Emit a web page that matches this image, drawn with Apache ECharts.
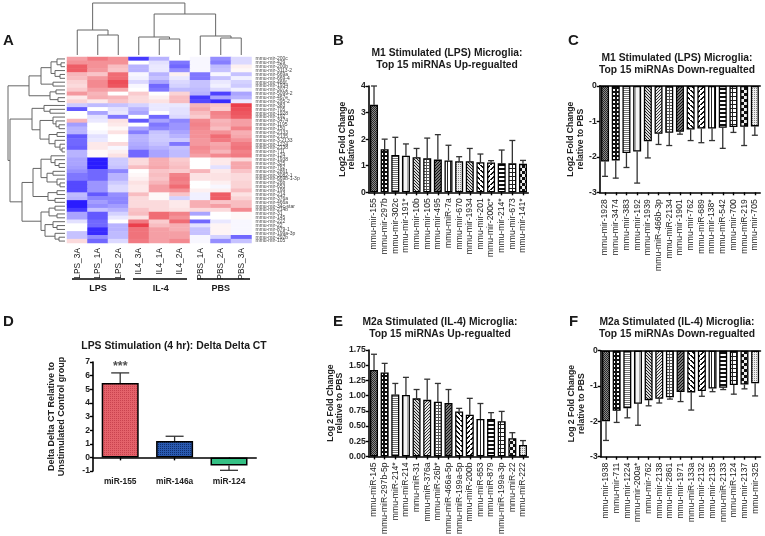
<!DOCTYPE html>
<html>
<head>
<meta charset="utf-8">
<style>html,body{margin:0;padding:0;background:#fff}#c{width:765px;height:536px;filter:blur(0.4px)}</style>
<script src="https://cdn.jsdelivr.net/npm/echarts@6/dist/echarts.min.js"></script>
</head>
<body>
<div id="c"></div>
<script>
// ---------- heat map data ----------
const heatColumns = ['LPS_3A','LPS_1A','LPS_2A','IL4_3A','IL4_1A','IL4_2A','PBS_1A','PBS_2A','PBS_3A'];
const heatRowNames = ['mmu-mir-200c','mmu-mir-429','mmu-mir-200b','mmu-mir-3113-2','mmu-mir-669a','mmu-mir-669-4','mmu-mir-466f','mmu-mir-1934',
 'mmu-mir-3072','mmu-mir-5099-2','mmu-mir-467e','mmu-mir-295-2','mmu-mir-383','mmu-mir-705','mmu-mir-1928','mmu-mir-192','mmu-mir-3474',
 'mmu-mir-1195','mmu-mir-150','mmu-mir-2133','mmu-mir-2135','mmu-mir-3-2133','mmu-mir-1224','mmu-mir-2138','mmu-mir-711','mmu-mir-124',
 'mmu-mir-1938','mmu-mir-325','mmu-mir-762','mmu-mir-2861','mmu-mir-3082-1','mmu-mir-669b-1-3p','mmu-mir-26b','mmu-mir-653','mmu-mir-199','mmu-mir-214',
 'mmu-mir-376a','mmu-mir-466a','mmu-mir-34c-star','mmu-mir-214b','mmu-mir-31','mmu-mir-145','mmu-mir-222','mmu-mir-22','mmu-mir-879-1','mmu-mir-199a-3p','mmu-mir-297b','mmu-mir-105'];
const heatValues = [
[1.3,1.8,1.5,-2.6,-1.0,0.0,-0.1,-1.5,-0.5],
[1.5,1.5,1.5,0.0,-0.4,-1.8,-0.1,-1.7,-0.5],
[2.2,1.5,0.9,-1.0,-0.3,-2.0,-0.1,-0.9,0.2],
[2.2,1.4,0.8,-1.0,-0.3,-1.5,-0.1,-0.8,0.1],
[1.0,0.8,2.0,-0.1,-1.0,0.2,-1.8,-0.1,-0.8],
[0.9,1.4,2.0,-0.2,-0.8,-0.3,-1.8,-0.8,-0.2],
[0.6,1.6,2.4,-0.5,-1.2,-0.5,-0.8,-0.3,-0.6],
[0.5,1.6,2.3,-0.1,-2.0,-0.6,-0.8,-0.2,-0.7],
[0.7,1.3,1.2,0.0,-1.8,-0.9,-0.9,-0.5,-0.2],
[1.4,1.0,0.0,0.7,0.0,0.6,-1.0,-2.5,-1.2],
[0.3,1.1,1.0,0.5,0.2,0.9,-2.6,-1.2,-1.0],
[0.6,0.3,0.8,0.5,0.4,0.9,-2.4,-2.8,-0.3],
[-0.7,-0.9,-0.8,-0.6,-0.3,-0.3,1.0,0.8,2.6],
[-2.2,0.0,-0.4,-1.0,-0.3,-0.4,1.2,0.7,2.4],
[0.0,-1.2,-0.3,-1.2,0.0,-0.4,0.9,1.7,2.3],
[0.0,-0.4,-1.8,0.0,-2.0,-0.5,0.7,1.6,2.2],
[1.0,-0.3,0.4,-2.2,-1.2,-1.6,1.6,1.0,1.3],
[-1.3,0.0,0.3,0.0,-1.8,-1.4,1.7,1.1,1.3],
[-1.0,0.0,0.1,-1.2,-1.6,-1.4,1.6,0.9,1.7],
[-1.0,-0.1,0.4,-1.7,-0.8,-1.2,1.5,1.5,1.1],
[-2.2,-0.4,0.0,-1.0,-0.7,-1.0,1.5,2.0,1.2],
[-2.0,-0.3,0.0,-1.0,-0.7,-0.7,1.4,1.8,1.5],
[-2.0,0.3,0.5,-1.1,-0.8,-1.8,1.4,1.2,1.8],
[-2.1,0.3,-0.1,-1.2,-1.0,-0.8,1.6,1.3,1.9],
[-1.0,0.1,0.2,-2.0,-1.2,-0.9,1.5,1.0,1.7],
[-1.0,0.1,0.4,-2.0,-1.2,-0.9,1.3,1.6,1.8],
[-1.2,-3.0,-0.7,0.5,1.1,0.7,0.0,0.3,0.5],
[-1.2,-3.0,-0.7,0.5,1.1,0.8,0.0,0.3,1.2],
[-1.3,-3.0,-0.8,0.9,1.2,0.9,0.0,-0.4,1.2],
[-1.5,-2.0,-1.6,0.0,0.8,0.7,1.0,0.3,0.8],
[-1.8,-2.0,-1.0,0.1,0.9,1.7,0.4,0.4,0.5],
[-1.8,-2.0,-1.0,0.2,0.8,1.8,0.4,0.4,0.5],
[-2.4,-1.4,-0.7,0.4,1.0,1.7,0.0,0.2,0.6],
[-2.4,-1.4,-0.5,0.3,1.3,2.0,0.0,-0.1,0.6],
[-2.4,-1.4,-0.5,0.3,1.3,1.5,0.2,0.2,0.9],
[-0.9,-2.2,-1.5,0.9,0.1,0.8,-0.2,2.2,0.4],
[-1.0,-1.6,-1.6,0.5,0.1,-0.6,-0.2,2.2,0.6],
[-3.0,-1.3,-1.6,0.5,0.5,0.3,1.1,0.8,0.9],
[-3.0,-1.5,-1.3,0.5,0.5,0.3,1.1,1.3,0.9],
[-2.6,-0.8,-1.0,0.8,0.5,0.4,0.5,0.5,1.6],
[-1.2,-2.2,-0.6,0.9,2.0,1.7,-1.2,0.0,0.1],
[-1.2,-2.2,-0.3,0.4,2.0,1.5,0.0,0.0,0.1],
[-0.4,-2.0,0.0,1.8,0.7,2.0,-2.0,-0.3,-0.1],
[0.0,-2.0,-1.0,2.6,0.9,1.1,-0.4,0.15,-0.1],
[0.0,-2.8,-1.0,1.9,1.3,1.1,-0.8,0.15,-0.1],
[-0.8,-2.8,-0.9,1.9,1.3,1.3,-0.8,0.15,-0.1],
[-0.8,-1.5,-0.9,1.9,1.3,1.3,-0.1,-0.6,-2.0],
[0.5,-2.0,-0.5,1.8,1.3,1.6,-0.1,-1.5,-0.8]];
// dendrograms: [height, child, child]; plain numbers are leaves
const colTree = [52,[25,0,[20,1,2]],[41,[18,3,[16,4,5]],[19,6,[17,7,8]]]];
const rowTree = [57,
 [36,[24,[14,[8,0,[4,1,2]],[10,3,[5,4,5]]],[12,6,7]],[15,[9,8,9],[7,10,11]]],
 [55,
  [33,[21,12,[15,13,14]],[25,[12,15,[9,16,[6,17,18]]],[16,[8,19,20],[10,21,[5,22,[3,23,24]]]]]],
  [43,
   [32,[24,[14,25,[10,26,[6,27,28]]],[18,[12,29,30],[8,31,[5,32,33]]]],[17,[8,34,35],[10,36,37]]],
   [24,[16,[10,38,39],[8,40,41]],[20,[12,42,[8,43,44]],[10,45,[6,46,47]]]]]]];

// ---------- panel B ----------
const bNames = ['mmu-mir-155','mmu-mir-297b','mmu-mir-302c','mmu-mir-191*','mmu-mir-10b','mmu-mir-105','mmu-mir-495','mmu-miR-7a','mmu-mir-670','mmu-mir-1934','mmu-mir-201','mmu-mir-200c*','mmu-mir-214*','mmu-mir-673','mmu-mir-141*'];
const bValues = [3.29,1.62,1.40,1.38,1.32,1.28,1.23,1.20,1.17,1.17,1.13,1.12,1.09,1.09,1.07];
const bTops = [4.0,2.0,2.07,1.82,1.65,2.04,2.17,1.77,1.34,1.65,1.44,1.19,1.59,1.95,1.2];
// ---------- panel C ----------
const cNames = ['mmu-mir-1928','mmu-mir-3474','mmu-mir-383','mmu-mir-192','mmu-mir-1939','mmu-miR-466b-3p','mmu-miR-2134','mmu-mir-1901','mmu-mir-762','mmu-miR-689','mmu-mir-138*','mmu-miR-542','mmu-mir-700','mmu-miR-219','mmu-mir-705'];
const cValues = [-2.13,-2.1,-1.89,-1.85,-1.56,-1.35,-1.32,-1.29,-1.23,-1.2,-1.2,-1.18,-1.16,-1.15,-1.14];
const cTops = [-2.55,-2.6,-2.3,-2.74,-2.03,-1.65,-1.68,-1.36,-1.54,-1.6,-1.54,-1.76,-1.31,-1.68,-1.39];
// ---------- panel D ----------
const dNames = ['miR-155','miR-146a','miR-124'];
const dValues = [5.45,1.2,-0.6];
const dTops = [6.2,1.55,-0.95];
// ---------- panel E ----------
const eNames = ['mmu-miR-145','mmu-miR-297b-5p','mmu-miR-214*','mmu-miR-214','mmu-miR-31','mmu-miR-376a','mmu-miR-26b*','mmu-miR-466a-5p','mmu-miR-199a-5p','mmu-miR-200b','mmu-miR-653','mmu-miR-879','mmu-miR-199a-3p','mmu-miR-22','mmu-miR-222'];
const eValues = [1.42,1.38,1.02,1.01,0.955,0.93,0.90,0.88,0.74,0.685,0.615,0.615,0.58,0.30,0.187];
const eTops = [1.68,1.53,1.2,1.3,1.1,1.27,1.2,1.1,0.79,0.955,0.87,0.72,0.74,0.39,0.26];
// ---------- panel F ----------
const fNames = ['mmu-mir-1938','mmu-mir-711','mmu-mir-1224','mmu-mir-200a*','mmu-mir-762','mmu-mir-2138','mmu-mir-2861','mmu-mir-1971','mmu-miR-133a','mmu-mir-2132','mmu-mir-2135','mmu-miR-2133','mmu-miR-124','mmu-mir-2137','mmu-mir-325'];
const fValues = [-2.0,-1.7,-1.63,-1.5,-1.4,-1.36,-1.32,-1.17,-1.18,-1.14,-1.07,-1.05,-0.97,-0.96,-0.92];
const fTops = [-2.54,-2.03,-1.9,-2.11,-1.56,-1.48,-1.37,-1.44,-1.68,-1.29,-1.16,-1.1,-1.23,-1.08,-1.28];

// ---------- patterns ----------
function tile(w,h,bg,draw){const c=document.createElement('canvas');c.width=w;c.height=h;const g=c.getContext('2d');g.fillStyle=bg;g.fillRect(0,0,w,h);g.fillStyle='#000';draw(g);return {image:c,repeat:'repeat'};}
function px(list,color){return g=>{g.fillStyle=color;list.forEach(p=>g.fillRect(p[0],p[1],p[2]||1,p[3]||1));};}
const patterns={
 fine:tile(2,2,'#8a8a8a',px([[0,0],[1,1]],'#2a2a2a')),
 dots:tile(4,4,'#111',px([[1,1,2,2]],'#fff')),
 hthin:tile(2,2,'#fff',px([[0,0,2,1]],'#777')),
 vlight:tile(4,2,'#f4f4f4',px([[3,0,1,2]],'#aaa')),
 diag:tile(3,3,'#d8d8d8',px([[0,0],[1,1],[2,2]],'#222')),
 diag2:tile(3,3,'#e8e8e8',px([[0,2],[1,1],[2,0]],'#333')),
 grid:tile(3,3,'#fff',px([[0,0,3,1],[0,0,1,3]],'#555')),
 dense:tile(3,3,'#777',px([[0,0],[2,1],[1,2]],'#111')),
 back:tile(5,5,'#fff',g=>{g.fillStyle='#111';for(let i=0;i<5;i++){g.fillRect(i,i,2,1);}}),
 fwd:tile(5,5,'#fff',g=>{g.fillStyle='#111';for(let i=0;i<5;i++){g.fillRect(4-i,i,2,1);}}),
 vert:tile(3,2,'#fff',px([[0,0,1,2]],'#222')),
 hwide:tile(2,4,'#fff',px([[0,0,2,2]],'#111')),
 gridb:tile(4,4,'#fff',px([[0,0,4,1],[0,0,1,4]],'#222')),
 check:tile(6,6,'#111',px([[0,0,3,3],[3,3,3,3]],'#eee')),
 stipple:tile(2,2,'#eee',px([[0,0]],'#888')),
 red:tile(2,2,'#e4626a',px([[0,0]],'#c9434f')),
 blue:tile(2,2,'#2a5ab0',px([[0,0]],'#0f2e6e'))
};
const orderB=['fine','dots','hthin','vlight','diag','grid','dense','vert','stipple','diag','back','fwd','hwide','gridb','check'];
const orderC=['fine','dots','hthin','vlight','diag','diag2','grid','dense','back','fwd','vert','hwide','gridb','check','stipple'];

// ---------- option assembly ----------
const FONT='"Liberation Sans", Arial, sans-serif';
const grids=[],xs=[],ys=[],series=[],titles=[];
function txt(s,x,y,size,align){titles.push({text:s,left:x,top:y,padding:0,textAlign:align||'center',textStyle:{fontFamily:FONT,fontWeight:'bold',fontSize:size,lineHeight:size+2,color:'#1a1a1a'}});}
function addGrid(g,x,y){const i=grids.length;grids.push(Object.assign({outerBoundsMode:'none',containLabel:false},g));const xi=xs.length,yi=ys.length;xs.push(Object.assign({gridIndex:i},x));ys.push(Object.assign({gridIndex:i},y));return {g:i,x:xi,y:yi};}
const axisLine={show:true,onZero:false,lineStyle:{color:'#000',width:1.6}};
const axisTick={show:true,length:3,lineStyle:{color:'#000',width:1.4}};

function barPanel(o){
 const bw=o.band*o.names.length;
 const i=addGrid({left:o.left,top:o.top,width:bw,height:o.h},
  {type:'category',data:o.names,position:'bottom',axisLine:o.onZero?{show:true,onZero:true,lineStyle:axisLine.lineStyle}:axisLine,axisTick:Object.assign({alignWithLabel:true},axisTick),splitLine:{show:false},
   axisLabel:{interval:0,rotate:o.catRotate===undefined?90:o.catRotate,fontFamily:FONT,fontSize:o.catSize||8.6,color:'#222',margin:o.catMargin||6,fontWeight:o.catWeight||'normal'}},
  {type:'value',min:o.min,max:o.max,interval:o.step,axisLine:{show:true,onZero:false,lineStyle:axisLine.lineStyle},axisTick,splitLine:{show:false},
   axisLabel:{fontFamily:FONT,fontSize:8.6,fontWeight:'bold',color:'#222',margin:3,formatter:o.fmt},
   name:o.yName,nameLocation:'middle',nameRotate:90,nameGap:o.nameGap,nameTextStyle:{fontFamily:FONT,fontSize:o.nameSize||8.6,fontWeight:'bold',color:'#222',lineHeight:(o.nameSize||8.6)+1.3}});
 if(o.neg){ // line along zero at the top of the negative panels
  xs.push({gridIndex:i.g,type:'category',data:o.names,position:'top',axisLine,axisTick:{show:false},axisLabel:{show:false},splitLine:{show:false}});
 }
 series.push({type:'bar',xAxisIndex:i.x,yAxisIndex:i.y,barWidth:o.barW,silent:true,animation:false,
  data:o.values.map((v,j)=>({value:v,itemStyle:{color:o.fills[j],borderColor:'#000',borderWidth:o.border||1.3}}))});
 series.push({type:'custom',xAxisIndex:i.x,yAxisIndex:i.y,silent:true,animation:false,z:1,
  data:o.values.map((v,j)=>[j,v,o.tops[j]]),encode:{x:0,y:[1,2]},
  renderItem:(p,api)=>{const a=api.coord([api.value(0),api.value(1)]),b=api.coord([api.value(0),api.value(2)]);const c=o.cap;
   return {type:'group',children:[
    {type:'line',shape:{x1:a[0],y1:a[1],x2:b[0],y2:b[1]},style:{stroke:'#333',lineWidth:1.3}},
    {type:'line',shape:{x1:b[0]-c,y1:b[1],x2:b[0]+c,y2:b[1]},style:{stroke:'#333',lineWidth:1.3}}]};}});
 return i;
}
const fills=k=>patterns[k];
barPanel({names:bNames,values:bValues,tops:bTops,fills:orderB.map(fills),left:368.7,top:86,band:10.64,h:106.3,min:0,max:4,step:1,yName:'Log2 Fold Change\nrelative to PBS',nameGap:10,barW:8,cap:3});
barPanel({names:cNames,values:cValues,tops:cTops,fills:orderC.map(fills),left:599.7,top:86,band:10.7,h:106.3,min:-3,max:0,step:1,yName:'Log2 Fold Change\nrelative to PBS',nameGap:9.5,barW:8,cap:3,neg:true,catMargin:7});
barPanel({names:eNames,values:eValues,tops:eTops,fills:orderC.map(fills),left:368.7,top:350,band:10.64,h:106.4,min:0,max:1.75,step:0.25,fmt:v=>v.toFixed(2),yName:'Log 2 Fold Change\nrelative to PBS',nameGap:21,barW:8,cap:3});
barPanel({names:fNames,values:fValues,tops:fTops,fills:orderC.map(fills),left:600.7,top:350.7,band:10.65,h:106,min:-3,max:0,step:1,yName:'Log 2 Fold Change\nrelative to PBS',nameGap:12,barW:8,cap:3,neg:true});
const dFills=[patterns.red,patterns.blue,'#34c084'];
const di=barPanel({names:dNames,values:dValues,tops:dTops,fills:dFills,left:93,top:362,band:54.4,h:109,min:-1,max:7,step:1,yName:'Delta Delta CT Relative to\nUnstimulated Control group',nameGap:26.5,nameSize:9,barW:37,cap:9,onZero:true,catRotate:0,catMargin:7,catSize:8.4,catWeight:'bold',border:1.5});
series.push({type:'scatter',xAxisIndex:di.x,yAxisIndex:di.y,silent:true,animation:false,symbolSize:0,data:[['miR-155',dTops[0]]],
 label:{show:true,formatter:'***',position:'top',distance:0,fontFamily:FONT,fontWeight:'bold',fontSize:12.5,color:'#222'}});

// heat map
const hi=addGrid({left:67,top:57,width:184.5,height:186},
 {type:'category',data:heatColumns,axisLine:{show:false},axisTick:{show:false},splitLine:{show:false},axisLabel:{interval:0,rotate:90,fontFamily:FONT,fontSize:8.4,color:'#222',margin:5}},
 {type:'category',data:heatRowNames,inverse:true,position:'right',axisLine:{show:false},axisTick:{show:false},splitLine:{show:false},axisLabel:{interval:0,fontFamily:FONT,fontSize:5,color:'#444',margin:4}});
const heatData=[];
heatValues.forEach((r,y)=>r.forEach((v,x)=>heatData.push([x,y,v])));
const heatSeriesIndex=series.length;
series.push({type:'heatmap',xAxisIndex:hi.x,yAxisIndex:hi.y,data:heatData,silent:true,animation:false,progressive:0});

// dendrograms
function walk(node,segs){
 if(typeof node==='number')return {p:node,h:0};
 const a=walk(node[1],segs),b=walk(node[2],segs);
 segs.push([a.p,a.h,b.p,b.h,node[0]]);
 return {p:(a.p+b.p)/2,h:node[0]};
}
const colSegs=[];walk(colTree,colSegs);
const rowSegs=[];walk(rowTree,rowSegs);
const dendLine={stroke:'#666',lineWidth:1,fill:'none'};
const ci=addGrid({left:67,top:3,width:184.5,height:52},
 {type:'value',min:-0.5,max:8.5,show:false},{type:'value',min:0,max:52,show:false});
series.push({type:'custom',xAxisIndex:ci.x,yAxisIndex:ci.y,silent:true,animation:false,data:colSegs,clip:false,encode:{x:[0,2],y:[1,3,4]},
 renderItem:(p,api)=>{const c=(x,y)=>api.coord([x,y]);
  return {type:'polyline',shape:{points:[c(api.value(0),api.value(1)),c(api.value(0),api.value(4)),c(api.value(2),api.value(4)),c(api.value(2),api.value(3))]},style:dendLine};}});
const ri=addGrid({left:8,top:57,width:57,height:186},
 {type:'value',min:0,max:57,inverse:true,show:false},{type:'value',min:-0.5,max:47.5,inverse:true,show:false});
series.push({type:'custom',xAxisIndex:ri.x,yAxisIndex:ri.y,silent:true,animation:false,data:rowSegs,clip:false,encode:{y:[0,2],x:[1,3,4]},
 renderItem:(p,api)=>{const c=(h,r)=>api.coord([h,r]);
  return {type:'polyline',shape:{points:[c(api.value(1),api.value(0)),c(api.value(4),api.value(0)),c(api.value(4),api.value(2)),c(api.value(3),api.value(2))]},style:dendLine};}});

// titles and panel letters
txt('A',3,32,15,'left');txt('B',333,32,15,'left');txt('C',568,32,15,'left');
txt('D',3,313,15,'left');txt('E',333,313,15,'left');txt('F',569,313,15,'left');
txt('M1 Stimulated (LPS) Microglia:\nTop 15 miRNAs Up-regualted',447,47,10.3);
txt('M1 Stimulated (LPS) Microglia:\nTop 15 miRNAs Down-regualted',677,52,10.3);
txt('LPS Stimulation (4 hr): Delta Delta CT',174,340,10.4);
txt('M2a Stimulated (IL-4) Microglia:\nTop 15 miRNAs Up-regualted',440,316,10.3);
txt('M2a Stimulated (IL-4) Microglia:\nTop 15 miRNAs Down-regualted',677,316,10.3);
txt('LPS',98,283.5,9);txt('IL-4',160.7,283.5,9);txt('PBS',220.7,283.5,9);

const groupRules=[[72,125],[133,187],[197,250]];
const chart=echarts.init(document.getElementById('c'),null,{renderer:'canvas',width:765,height:536});
chart.setOption({
 animation:false,backgroundColor:'#fff',title:titles,grid:grids,xAxis:xs,yAxis:ys,series,
 visualMap:{show:false,type:'continuous',min:-3,max:3,dimension:2,seriesIndex:heatSeriesIndex,inRange:{color:['#2a1cff','#ffffff','#e8222f']}},
 graphic:groupRules.map(r=>({type:'line',shape:{x1:r[0],y1:279,x2:r[1],y2:279},style:{stroke:'#000',lineWidth:1.5},silent:true}))
});
</script>
</body>
</html>
